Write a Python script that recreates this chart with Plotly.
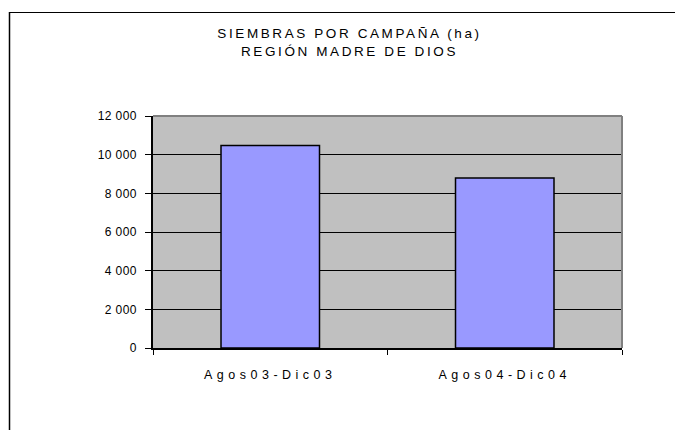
import plotly.graph_objects as go

categories = ["Agos03-Dic03", "Agos04-Dic04"]
hectares = [10470, 8790]
title_lines = ["SIEMBRAS POR CAMPAÑA (ha)", "REGIÓN MADRE DE DIOS"]
y_range = [0, 12000]
y_step = 2000

FONT = "Liberation Sans, Arial, sans-serif"

fig = go.Figure(
    go.Bar(
        x=categories,
        y=hectares,
        marker=dict(color="#9999FF", line=dict(color="#000000", width=1.5)),
        width=0.42,
    )
)

# figure is placed at (8, 8) in the page by the default body margin
W, H = 683, 430
L, R, T, B = 145, 69, 108, 90
pw, ph = W - L - R, H - T - B


def px_x(x):
    return (x - L) / pw


def px_y(y):
    return (H - B - y) / ph


shapes = [
    # plot area border (top, right) gray
    dict(type="line", xref="paper", yref="paper", x0=0, x1=1, y0=1, y1=1,
         line=dict(color="#808080", width=2), layer="above"),
    dict(type="line", xref="paper", yref="paper", x0=1, x1=1, y0=0, y1=1,
         line=dict(color="#808080", width=2), layer="above"),
    # outer chart border (top and left visible)
    dict(type="line", xref="paper", yref="paper", x0=px_x(1), x1=px_x(700),
         y0=px_y(4.5), y1=px_y(4.5), line=dict(color="#000000", width=1.2)),
    dict(type="line", xref="paper", yref="paper", x0=px_x(1.5), x1=px_x(1.5),
         y0=px_y(4), y1=px_y(460), line=dict(color="#000000", width=1.5)),
]

fig.update_layout(
    width=W,
    height=H,
    margin=dict(l=L, r=R, t=T, b=B),
    paper_bgcolor="#FFFFFF",
    plot_bgcolor="#C0C0C0",
    separators=". ",
    font=dict(family=FONT, size=12, color="#000000"),
    title=dict(
        text="<br>".join(title_lines),
        x=0.5,
        xanchor="center",
        y=1 - 30 / H,
        yanchor="middle",
        font=dict(family=FONT, size=13.5, color="#000000"),
    ),
    showlegend=False,
    shapes=shapes,
)

fig.update_xaxes(
    type="category",
    showline=True,
    linecolor="#000000",
    linewidth=1.5,
    ticks="outside",
    tickson="boundaries",
    ticklen=5,
    tickcolor="#000000",
    ticklabelstandoff=14,
    showgrid=False,
    tickfont=dict(family=FONT, size=12.5, color="#000000"),
)

fig.update_yaxes(
    range=y_range,
    dtick=y_step,
    tick0=0,
    tickformat=",d",
    showline=True,
    linecolor="#000000",
    linewidth=1.5,
    ticks="outside",
    ticklen=6,
    tickcolor="#000000",
    ticklabelstandoff=6,
    showgrid=True,
    gridcolor="#000000",
    gridwidth=1,
    zeroline=False,
    tickfont=dict(family=FONT, size=12, color="#000000"),
)

post = """
var gd = document.getElementById('{plot_id}');
function spacing() {
  gd.querySelectorAll('.gtitle').forEach(function (t) { t.style.letterSpacing = '2.6px'; });
  gd.querySelectorAll('.xtick text').forEach(function (t) { t.style.letterSpacing = '4.5px'; });
  gd.querySelectorAll('.ytick text').forEach(function (t) { t.style.letterSpacing = '0.4px'; });
}
spacing();
if (gd.on) { gd.on('plotly_afterplot', spacing); }
"""

fig.write_html("out.html", post_script=post)
